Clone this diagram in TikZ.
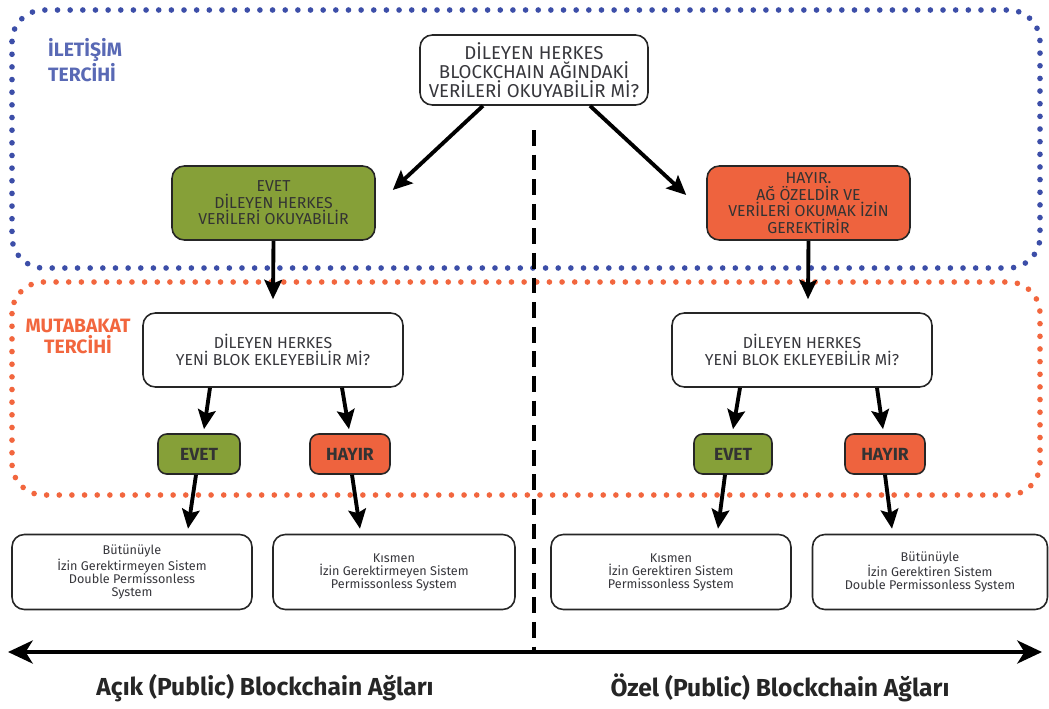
\documentclass[tikz,border=0pt]{standalone}
\usepackage{fontspec}
\setmainfont{Fira Sans}
\usetikzlibrary{arrows.meta,calc}
\definecolor{dblue}{RGB}{60,78,168}
\definecolor{dorange}{RGB}{242,102,62}
\definecolor{bgreen}{RGB}{134,160,56}
\definecolor{bred}{RGB}{238,99,62}
\definecolor{txt}{RGB}{55,55,60}
\tikzset{
  x=0.02cm,y=-0.02cm,
  dotbox/.style={line width=3.2pt, dash pattern=on 0pt off 7.2pt, line cap=round, rounded corners=18pt},
  box/.style={draw=black!85, line width=0.9pt, rounded corners=7pt, align=center, fill=white, text=txt, inner sep=1pt},
  arr/.style={line width=2.2pt, -{Stealth[length=11pt,width=10pt,inset=2pt]}},
  titlecap/.style={font=\bfseries\fontsize{11}{12}\selectfont, align=left},
  midtext/.style={font=\fontsize{9}{9.4}\selectfont},
  smalltext/.style={font=\fontsize{7.2}{7.4}\selectfont},
}
\begin{document}
\begin{tikzpicture}
\useasboundingbox[fill=white] (0,0) rectangle (1049,708);
% dotted regions
\draw[dotbox, dblue] (12,10) rectangle (1040,268);
\draw[dotbox, dorange] (12,282) rectangle (1040,495);
\node[titlecap, text=dblue!85!white, anchor=north west] (t1) at (42,32) {İLETİŞİM\\TERCİHİ};
\node[titlecap, text=dorange, align=center] (t2) at (78,336) {MUTABAKAT\\TERCİHİ};
% dashed divider and axis
\coordinate (dtop) at (534,130);
\coordinate (dbot) at (534,652);
\draw[line width=2.4pt, dash pattern=on 9pt off 5pt] (dtop) -- (dbot);
\coordinate (axL) at (8,652);
\coordinate (axR) at (1042,652);
\draw[line width=2.8pt, {Stealth[length=14pt,width=13pt,inset=4pt]}-{Stealth[length=14pt,width=13pt,inset=4pt]}] (axL) -- (axR);
\node[font=\fontsize{14}{15}\selectfont\bfseries, text=black!85] (lab1) at (265,688) {Açık (Public) Blockchain Ağları};
\node[font=\fontsize{14}{15}\selectfont\bfseries, text=black!85] (lab2) at (780,688) {Özel (Public) Blockchain Ağları};
% nodes
\node[box, minimum width=4.56cm, minimum height=1.4cm, font=\fontsize{10.6}{11}\selectfont] (top) at (534,70) {DİLEYEN HERKES\\BLOCKCHAIN AĞINDAKİ\\VERİLERİ OKUYABİLİR Mİ?};
\node[box, midtext, fill=bgreen, minimum width=4.06cm, minimum height=1.48cm, text=black!80] (gr) at (273.5,203) {EVET\\DİLEYEN HERKES\\VERİLERİ OKUYABİLİR};
\node[box, midtext, fill=bred, minimum width=4.06cm, minimum height=1.48cm, text=black!80] (rd) at (808.5,203) {HAYIR.\\AĞ ÖZELDİR VE\\VERİLERİ OKUMAK İZİN\\GEREKTİRİR};
\node[box, midtext, minimum width=5.2cm, minimum height=1.48cm] (qL) at (273,350) {DİLEYEN HERKES\\YENİ BLOK EKLEYEBİLİR Mİ?};
\node[box, midtext, minimum width=5.2cm, minimum height=1.48cm] (qR) at (802,350) {DİLEYEN HERKES\\YENİ BLOK EKLEYEBİLİR Mİ?};
\node[box, fill=bgreen, minimum width=1.64cm, minimum height=0.8cm, rounded corners=5pt, font=\fontsize{10}{11}\selectfont\bfseries, text=black!80] (evL) at (199,454) {EVET};
\node[box, fill=bred, minimum width=1.6cm, minimum height=0.8cm, rounded corners=5pt, font=\fontsize{10}{11}\selectfont\bfseries, text=black!80] (hyL) at (350,454) {HAYIR};
\node[box, fill=bgreen, minimum width=1.56cm, minimum height=0.8cm, rounded corners=5pt, font=\fontsize{10}{11}\selectfont\bfseries, text=black!80] (evR) at (733,454) {EVET};
\node[box, fill=bred, minimum width=1.6cm, minimum height=0.8cm, rounded corners=5pt, font=\fontsize{10}{11}\selectfont\bfseries, text=black!80] (hyR) at (885,454) {HAYIR};
\node[box, smalltext, minimum width=4.8cm, minimum height=1.5cm] (bL1) at (132,572) {Bütünüyle\\İzin Gerektirmeyen Sistem\\Double Permissonless\\System};
\node[box, smalltext, minimum width=4.84cm, minimum height=1.5cm] (bL2) at (394,572) {Kısmen\\İzin Gerektirmeyen Sistem\\Permissonless System};
\node[box, smalltext, minimum width=4.8cm, minimum height=1.5cm] (bR1) at (671,572) {Kısmen\\İzin Gerektiren Sistem\\Permissonless System};
\node[box, smalltext, minimum width=4.7cm, minimum height=1.5cm] (bR2) at (930,572) {Bütünüyle\\İzin Gerektiren Sistem\\Double Permissonless System};
% arrows
\draw[arr] ($(top.south)+(-51,0)$) -- ($(gr.east)+(17,-13)$);
\draw[arr] ($(top.south)+(56,0)$) -- ($(rd.west)+(-20,-8)$);
\draw[arr] (gr.south) -- ($(qL.north)+(0,-13)$);
\draw[arr] (rd.south) -- ($(qR.north)+(6,-13)$);
\draw[arr] ($(qL.south)+(-63,0)$) -- ($(evL.north)+(5,-4)$);
\draw[arr] ($(qL.south)+(69,0)$) -- ($(hyL.north)+(-1,-4)$);
\draw[arr] ($(qR.south)+(-62,0)$) -- ($(evR.north)+(0,-4)$);
\draw[arr] ($(qR.south)+(75,0)$) -- ($(hyR.north)+(-2,-4)$);
\draw[arr] ($(evL.south)+(-3,0)$) -- ($(bL1.north)+(56,-5)$);
\draw[arr] ($(hyL.south)+(2,0)$) -- ($(bL2.north)+(-34,-5)$);
\draw[arr] ($(evR.south)+(-8,0)$) -- ($(bR1.north)+(47,-5)$);
\draw[arr] ($(hyR.south)+(0,0)$) -- ($(bR2.north)+(-38,-5)$);
\end{tikzpicture}
\end{document}
